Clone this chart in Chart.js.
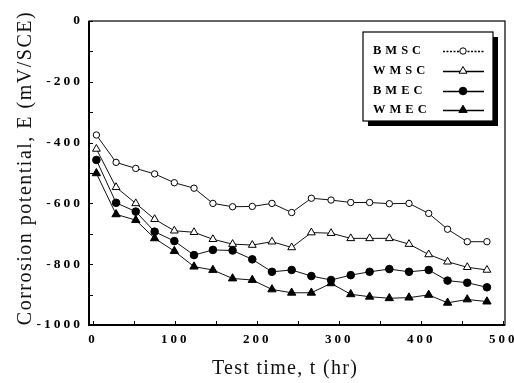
<!DOCTYPE html>
<html>
<head>
<meta charset="utf-8">
<script src="https://cdn.jsdelivr.net/npm/chart.js@4/dist/chart.umd.min.js"></script>
<style>
html,body{margin:0;padding:0;background:#fff;}
#wrap{width:514px;height:383px;}
</style>
</head>
<body>
<div id="wrap"><canvas id="c" width="514" height="383"></canvas></div>
<script>
const times = [4, 28, 52, 75, 99, 123, 146, 170, 194, 218, 242, 266, 290, 314, 337, 361, 385, 409, 432, 456, 480];
const bmsc = [-375, -465, -485, -503, -532, -550, -600, -611, -610, -600, -630, -583, -589, -597, -597, -601, -600, -633, -685, -726, -726];
const wmsc = [-421, -547, -600, -652, -690, -695, -718, -734, -737, -726, -745, -696, -698, -715, -715, -715, -734, -768, -792, -810, -819];
const bmec = [-457, -598, -627, -693, -724, -770, -753, -755, -784, -825, -819, -839, -852, -836, -825, -816, -825, -819, -854, -861, -876];
const wmec = [-501, -636, -655, -715, -757, -808, -819, -847, -852, -883, -894, -894, -863, -899, -907, -912, -910, -901, -927, -916, -923];
const seriesNames = ['BMSC', 'WMSC', 'BMEC', 'WMEC'];
const xTickValues = [0, 100, 200, 300, 400, 500];
const xTickLabels = ['0', '100', '200', '300', '400', '500'];
const yTickValues = [0, -200, -400, -600, -800, -1000];
const yTickLabels = ['0', '-200', '-400', '-600', '-800', '-1000'];
const xTitle = 'Test time, t (hr)';
const yTitle = 'Corrosion potential, E (mV/SCE)';

const seriesValues = [bmsc, wmsc, bmec, wmec];
const styles = [
  {pointStyle: 'circle', radius: 3.2, fill: '#fff', legendDash: [2, 1.5]},
  {pointStyle: 'triangle', radius: 4.5, fill: '#fff', legendDash: []},
  {pointStyle: 'circle', radius: 3.8, fill: '#000', legendDash: []},
  {pointStyle: 'triangle', radius: 4.8, fill: '#000', legendDash: []}
];

const datasets = seriesNames.map((name, i) => ({
  label: name,
  data: times.map((t, k) => ({x: t, y: seriesValues[i][k]})),
  borderColor: '#111',
  borderWidth: 1,
  backgroundColor: styles[i].fill,
  pointStyle: styles[i].pointStyle,
  pointRadius: styles[i].radius,
  pointBorderWidth: 1,
  pointBorderColor: '#000',
  pointBackgroundColor: styles[i].fill,
  tension: 0,
  fill: false
}));

const decorPlugin = {
  id: 'decor',
  beforeDraw(chart) {
    chart.ctx.letterSpacing = '3px';
  },
  afterDraw(chart) {
    const ctx = chart.ctx;
    const a = chart.chartArea;
    const xs = chart.scales.x, ys = chart.scales.y;
    ctx.save();
    ctx.letterSpacing = '0px';
    ctx.strokeStyle = '#000';
    ctx.lineWidth = 1.2;
    ctx.strokeRect(a.left, a.top, a.right - a.left, a.bottom - a.top);
    ctx.lineWidth = 2;
    ctx.beginPath();
    ctx.moveTo(a.left, a.top);
    ctx.lineTo(a.left, a.bottom);
    ctx.lineTo(a.right, a.bottom);
    ctx.stroke();
    ctx.lineWidth = 1;
    ctx.beginPath();
    for (let v = 0; v <= 500; v += 50) {
      const px = Math.round(xs.getPixelForValue(v)) + 0.5;
      ctx.moveTo(px, a.bottom);
      ctx.lineTo(px, a.bottom - 4);
    }
    for (let v = 0; v >= -1000; v -= 100) {
      const py = Math.round(ys.getPixelForValue(v)) + 0.5;
      ctx.moveTo(a.left, py);
      ctx.lineTo(a.left + 4, py);
    }
    ctx.stroke();

    const bx = 363, by = 32, bw = 130, bh = 89;
    ctx.fillStyle = '#000';
    ctx.fillRect(bx + 5, by + 5, bw, bh);
    ctx.fillStyle = '#fff';
    ctx.fillRect(bx, by, bw, bh);
    ctx.lineWidth = 1.2;
    ctx.strokeStyle = '#000';
    ctx.strokeRect(bx, by, bw, bh);
    const rows = [51, 71, 91, 110];
    chart.data.datasets.forEach((ds, i) => {
      const yy = rows[i];
      ctx.save();
      ctx.letterSpacing = '4px';
      ctx.font = 'bold 12.5px "Liberation Serif"';
      ctx.fillStyle = '#000';
      ctx.textAlign = 'left';
      ctx.textBaseline = 'middle';
      ctx.fillText(ds.label, 373, yy);
      ctx.restore();
      ctx.save();
      ctx.strokeStyle = '#000';
      ctx.lineWidth = 1.3;
      ctx.setLineDash(styles[i].legendDash);
      ctx.beginPath();
      ctx.moveTo(443, yy + 0.5);
      ctx.lineTo(484, yy + 0.5);
      ctx.stroke();
      ctx.setLineDash([]);
      ctx.fillStyle = ds.pointBackgroundColor;
      ctx.strokeStyle = '#000';
      ctx.lineWidth = 1;
      Chart.helpers.drawPoint(ctx, {pointStyle: ds.pointStyle, radius: ds.pointRadius, borderWidth: 1, rotation: 0}, 463, yy);
      ctx.restore();
    });

    ctx.fillStyle = '#111';
    ctx.font = '20px "Liberation Serif"';
    ctx.letterSpacing = '1.3px';
    ctx.textAlign = 'center';
    ctx.textBaseline = 'middle';
    ctx.fillText(xTitle, 285, 369);
    ctx.save();
    ctx.translate(26, 168);
    ctx.rotate(-Math.PI / 2);
    ctx.letterSpacing = '1.5px';
    ctx.fillText(yTitle, 0, 0);
    ctx.restore();
    ctx.restore();
  }
};

new Chart(document.getElementById('c'), {
  type: 'line',
  data: {datasets},
  plugins: [decorPlugin],
  options: {
    responsive: false,
    animation: false,
    devicePixelRatio: 1,
    layout: {padding: {top: 21, right: 9, left: 0, bottom: 0}},
    plugins: {legend: {display: false}, tooltip: {enabled: false}},
    scales: {
      x: {
        type: 'linear',
        min: -5,
        max: 502,
        grid: {display: false, drawTicks: false},
        border: {display: false},
        afterBuildTicks: s => { s.ticks = xTickValues.map(v => ({value: v})); },
        afterFit: s => { s.height = 58; s.paddingLeft = 0; s.paddingRight = 0; },
        ticks: {
          autoSkip: false,
          maxRotation: 0,
          padding: 7,
          color: '#000',
          font: {family: 'Liberation Serif', size: 13, weight: 'bold'},
          callback: (v, i) => xTickLabels[i]
        }
      },
      y: {
        type: 'linear',
        min: -1000,
        max: 0,
        grid: {display: false, drawTicks: false},
        border: {display: false},
        afterBuildTicks: s => { s.ticks = yTickValues.map(v => ({value: v})); },
        afterFit: s => { s.width = 89; s.paddingTop = 0; s.paddingBottom = 0; },
        ticks: {
          autoSkip: false,
          padding: 6,
          color: '#000',
          font: {family: 'Liberation Serif', size: 13.5, weight: 'bold'},
          callback: (v, i) => yTickLabels[i]
        }
      }
    }
  }
});
</script>
</body>
</html>
